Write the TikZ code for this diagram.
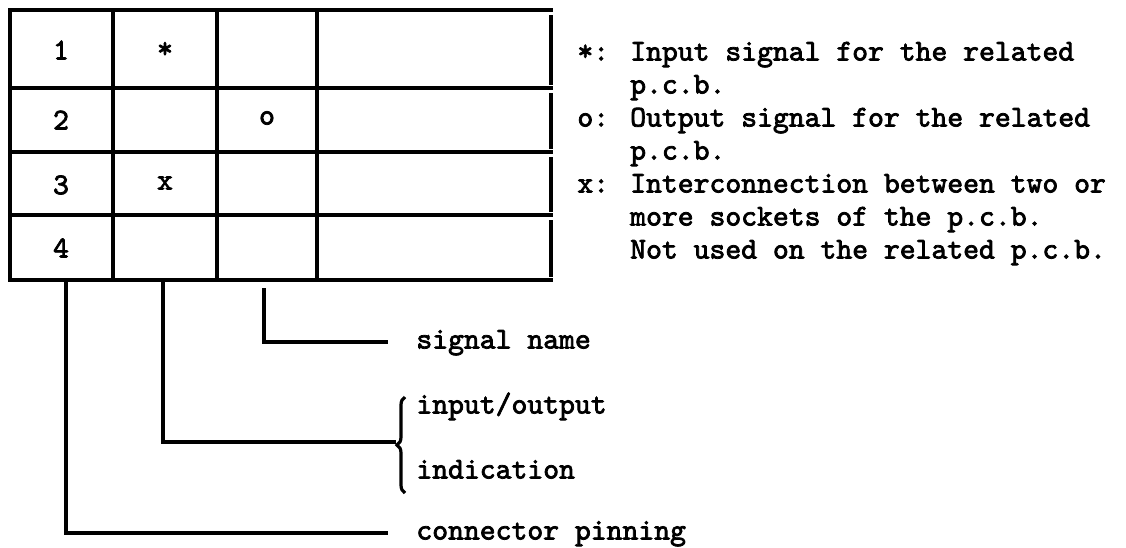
\documentclass[tikz,border=0pt]{standalone}
\usepackage{fontspec}
\newfontfamily\legendfont{lmmono10-regular.otf}[FakeBold=2.5]
\usetikzlibrary{decorations.pathreplacing}

\tikzset{
  rule/.style={line width=1.6pt},
  cell/.style={font=\legendfont\fontsize{15.1}{18}\selectfont, inner sep=0pt},
  lbl/.style={font=\legendfont\fontsize{15.1}{18}\selectfont, anchor=west,
    inner sep=0pt, text height=6.5pt, text depth=0pt},
}

\begin{document}
\begin{tikzpicture}[x=0.5pt,y=-0.5pt]
  \useasboundingbox (0,0) rectangle (1126,547);
  % table grid
  \foreach \y in {10,88,152,215,280}
    \draw[rule] (8,\y) -- (553,\y);
  \foreach \x in {10,113,217,317}
    \draw[rule] (\x,10) -- (\x,280);
  \foreach \ya/\yb in {10/88,88/152,152/215,215/280}
    \draw[rule] (551,\ya+5) -- (551,\yb-3);
  % cell entries
  \node[cell] (pin1) at (61,50) {1};
  \node[cell] (pin2) at (61,120) {2};
  \node[cell] (pin3) at (61,185) {3};
  \node[cell] (pin4) at (61,248) {4};
  \node[cell] (in1) at (165,50) {*};
  \node[cell] (out2) at (267,118) {o};
  \node[cell] (con3) at (165,183) {x};
  % legend
  \foreach \txt [count=\i] in {%
      {*: Input signal for the related},
      {\hphantom{*: }p.c.b.},
      {o: Output signal for the related},
      {\hphantom{o: }p.c.b.},
      {x: Interconnection between two or},
      {\hphantom{x: }more sockets of the p.c.b.},
      {\hphantom{x: }Not used on the related p.c.b.}}
    \node[lbl] (leg\i) at (577,{54+(\i-1)*33}) {\txt};
  % column keys
  \coordinate (s1) at (66,280);
  \coordinate (s2) at (163,280);
  \coordinate (s3) at (264,288);
  \node[lbl] (sig) at (416,342) {signal name};
  \node[lbl] (io1) at (416,407) {input/output};
  \node[lbl] (io2) at (416,472) {indication};
  \node[lbl] (pinning) at (416,533) {connector pinning};
  \coordinate (btop) at (405,397);
  \coordinate (bbot) at (405,493);
  \coordinate (btip) at (396,442);
  \draw[rule] (bbot) -- (btop) [decorate, decoration={brace, amplitude=4pt}];
  \draw[rule] (s3) |- ([xshift=-14pt]sig.west);
  \draw[rule] (s2) |- (btip);
  \draw[rule] (s1) |- ([xshift=-14pt]pinning.west);
\end{tikzpicture}
\end{document}
